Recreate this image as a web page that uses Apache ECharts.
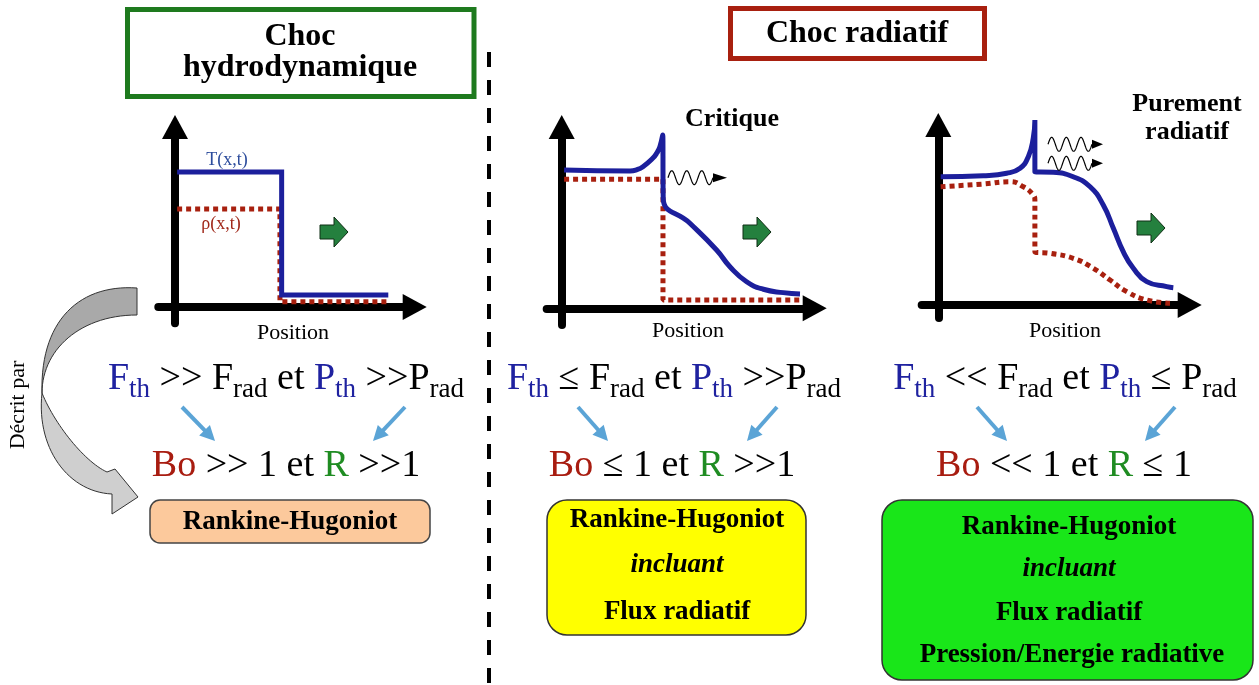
<!DOCTYPE html>
<html><head><meta charset="utf-8">
<script src="https://cdn.jsdelivr.net/npm/echarts@6/dist/echarts.min.js"></script>
<style>html,body{margin:0;padding:0;background:#fff}#c{width:1259px;height:685px}</style>
</head><body><div id="c"></div>
<script>
// ---------- DATA (position, value) ----------
const hydroTemperature = [[0.1,10],[5.0,10],[5.0,0.89],[10,0.89]];
const hydroDensity     = [[0.1,7.26],[4.92,7.26],[4.92,0.39],[9.92,0.39]];
const criticTemperature = [[0.1,10.24],[2.87,10.17],[3.16,10.27],[3.41,10.49],[3.83,11.13],[3.99,11.5],[4.12,11.97],[4.24,12.84],[4.26,8.15],[5.38,6.30],[6.50,4.32],[7.06,3.08],[7.76,1.97],[8.46,1.41],[9.30,1.16],[10,1.06]];
const criticDensity     = [[0.1,9.56],[4.25,9.56],[4.25,0.61],[10,0.61]];
const radTemperature = [[0.1,9.50],[1.91,9.58],[2.91,9.76],[3.48,10.13],[3.83,10.99],[4.04,12.35],[4.11,13.70],[4.11,9.87],[4.89,9.83],[5.74,9.50],[6.46,8.76],[7.02,7.41],[7.45,5.68],[7.87,3.95],[8.30,2.72],[8.87,1.73],[9.72,1.36],[10,1.28]];
const radDensity     = [[0.1,8.76],[1.91,8.96],[3.05,9.13],[3.62,8.76],[4.04,8.15],[4.11,7.78],[4.11,3.95],[4.75,3.83],[5.74,3.46],[6.60,2.72],[7.31,1.85],[8.02,0.99],[8.87,0.37],[9.86,0.13]];
const seriesNames = ['T(x,t)', 'ρ(x,t)'];
const axisName = 'Position';

// ---------- LAYOUT ----------
const SERIF = '"Liberation Serif","DejaVu Serif",serif';
const BLUE = '#1f22a0', DRED = '#a81c10', GREEN = '#1f8c22';
const TCOL = '#1c1f9c', RCOL = '#a8200f';
const AH = 24, AW = 26;
const panels = [
  {ox:175,   oy:307,   xu:21.33, yu:13.5, left:158.3, xTip:426.7,  yTip:115, bottom:323.3, T:hydroTemperature,  R:hydroDensity,  sT:0,   sR:0},
  {ox:561.7, oy:308.3, xu:23.83, yu:13.5, left:546.7, xTip:826.7,  yTip:115, bottom:325,   T:criticTemperature, R:criticDensity, sT:0.5, sR:0},
  {ox:938.3, oy:305,   xu:23.5,  yu:13.5, left:921.7, xTip:1201.7, yTip:113, bottom:318,   T:radTemperature,    R:radDensity,    sT:0.5, sR:0.5}
];

const grid = [], xAxis = [], yAxis = [], series = [];
const axisLine = {show:true, onZero:true, symbol:['none','triangle'], symbolSize:[AW,AH], lineStyle:{color:'#000', width:8}};
panels.forEach((p,i)=>{
  const top = p.yTip + AH/2, right = p.xTip - AH/2;
  grid.push({left:p.left, top:top, width:right-p.left, height:p.bottom-top, containLabel:false, outerBoundsMode:'none'});
  xAxis.push({type:'value', gridIndex:i, min:(p.left-p.ox)/p.xu, max:(right-p.ox)/p.xu, axisLine, axisTick:{show:false}, axisLabel:{show:false}, splitLine:{show:false}});
  yAxis.push({type:'value', gridIndex:i, min:(p.oy-p.bottom)/p.yu, max:(p.oy-top)/p.yu, axisLine, axisTick:{show:false}, axisLabel:{show:false}, splitLine:{show:false}});
  series.push({type:'line', name:seriesNames[1], xAxisIndex:i, yAxisIndex:i, data:p.R, smooth:p.sR, showSymbol:false, symbol:'none', clip:false, silent:true, z:3,
    lineStyle:{color:RCOL, width:5, type:[5,4], cap:'butt'}});
  series.push({type:'line', name:seriesNames[0], xAxisIndex:i, yAxisIndex:i, data:p.T, smooth:p.sT, showSymbol:false, symbol:'none', clip:false, silent:true, z:4,
    lineStyle:{color:TCOL, width:5, join:'miter'}});
});

// ---------- GRAPHIC helpers ----------
const G = [];
function txt(x,y,text,o){
  o=o||{};
  G.push({type:'text', x, y, rotation:o.rot||0, z:10, style:{text, fill:o.fill||'#000', fontFamily:SERIF, fontSize:o.size||20,
    fontWeight:o.bold?'bold':'normal', fontStyle:o.italic?'italic':'normal', align:'center', verticalAlign:'middle'}});
}
function richTxt(x,y,text,rich){
  G.push({type:'text', x, y, z:10, style:{text, rich, align:'center', verticalAlign:'middle', fontFamily:SERIF}});
}
function rect(x,y,w,h,o){
  G.push({type:'rect', z:5, shape:{x,y,width:w,height:h,r:o.r||0}, style:{fill:o.fill||'none', stroke:o.stroke, lineWidth:o.lw||1}});
}
function arrow(x1,y1,x2,y2,color,lw,hl,hw){
  const a=Math.atan2(y2-y1,x2-x1), c=Math.cos(a), s=Math.sin(a);
  const bx=x2-hl*c, by=y2-hl*s;
  G.push({type:'line', z:6, shape:{x1,y1,x2:bx+2*c,y2:by+2*s}, style:{stroke:color, lineWidth:lw}});
  G.push({type:'polygon', z:6, shape:{points:[[x2,y2],[bx-hw/2*s,by+hw/2*c],[bx+hw/2*s,by-hw/2*c]]}, style:{fill:color}});
}
function wave(x0,x1,cy,amp,periods,headLen){
  const pts=[]; const n=90;
  for(let k=0;k<=n;k++){const t=k/n; pts.push([x0+(x1-x0)*t, cy - amp*Math.sin(2*Math.PI*periods*t)]);}
  G.push({type:'polyline', z:6, shape:{points:pts}, style:{stroke:'#000', lineWidth:1.2, fill:null}});
  G.push({type:'polygon', z:6, shape:{points:[[x1+headLen,cy],[x1,cy-4.5],[x1,cy+4.5]]}, style:{fill:'#000'}});
}
function block(x,cy){
  const p=[[0,-7],[14,-7],[14,-15],[28,0],[14,15],[14,7],[0,7]].map(q=>[x+q[0],cy+q[1]]);
  G.push({type:'polygon', z:6, shape:{points:p}, style:{fill:'#24803e', stroke:'#0f2f14', lineWidth:1}});
}
function bez(p0,p1,p2,p3,n){
  const r=[]; for(let k=0;k<=n;k++){const t=k/n,u=1-t;
    r.push([u*u*u*p0[0]+3*u*u*t*p1[0]+3*u*t*t*p2[0]+t*t*t*p3[0], u*u*u*p0[1]+3*u*u*t*p1[1]+3*u*t*t*p2[1]+t*t*t*p3[1]]);}
  return r;
}

// Title boxes
rect(127.5,9.5,346.5,87,{stroke:'#1e7a1e', lw:5});
txt(300,37,'Choc',{size:32,bold:true});
txt(300,68,'hydrodynamique',{size:32,bold:true});
rect(730.5,8.5,254,50,{stroke:'#a8200f', lw:5});
txt(857,34,'Choc radiatif',{size:32,bold:true});

// Divider
G.push({type:'line', z:1, shape:{x1:489,y1:52,x2:489,y2:685}, style:{stroke:'#000', lineWidth:4, lineDash:[15,13]}});

// Panel annotations
txt(227,160,seriesNames[0],{size:18,fill:'#2c4c9c'});
txt(221,224,seriesNames[1],{size:18,fill:'#a0281a'});
txt(293,333,axisName,{size:22});
txt(688,331,axisName,{size:22});
txt(1065,331,axisName,{size:22});
txt(732,119,'Critique',{size:26,bold:true});
txt(1187,104,'Purement',{size:26,bold:true});
txt(1187,132,'radiatif',{size:26,bold:true});
block(320,232); block(743,232); block(1137,228);
wave(668,713,177.7,7,3,14);
wave(1048,1092,144.3,7,3,11);
wave(1048,1092,163.3,7,3,11);

// Equations
const M = 38, S = 27;
const rich = {
  k:{fontFamily:SERIF,fontSize:M,lineHeight:48,fill:'#000'},
  b:{fontFamily:SERIF,fontSize:M,lineHeight:48,fill:BLUE},
  r:{fontFamily:SERIF,fontSize:M,lineHeight:48,fill:DRED},
  g:{fontFamily:SERIF,fontSize:M,lineHeight:48,fill:GREEN},
  bs:{fontFamily:SERIF,fontSize:S,lineHeight:26,verticalAlign:'bottom',fill:BLUE},
  ks:{fontFamily:SERIF,fontSize:S,lineHeight:26,verticalAlign:'bottom',fill:'#000'}
};
richTxt(286,379,'{b|F}{bs|th}{k| >> F}{ks|rad}{k| et }{b|P}{bs|th}{k| >>P}{ks|rad}',rich);
richTxt(286,466,'{r|Bo}{k| >> 1 et }{g|R}{k| >>1}',rich);
richTxt(674,379,'{b|F}{bs|th}{k| ≤ F}{ks|rad}{k| et }{b|P}{bs|th}{k| >>P}{ks|rad}',rich);
richTxt(672,466,'{r|Bo}{k| ≤ 1 et }{g|R}{k| >>1}',rich);
richTxt(1065,379,'{b|F}{bs|th}{k| << F}{ks|rad}{k| et }{b|P}{bs|th}{k| ≤ P}{ks|rad}',rich);
richTxt(1064,466,'{r|Bo}{k| << 1 et }{g|R}{k| ≤ 1}',rich);

const LB = '#5ba4d6';
arrow(182,407,215,441,LB,4,15,15); arrow(405,407,373,441,LB,4,15,15);
arrow(578,407,608,441,LB,4,15,15); arrow(777,407,747,441,LB,4,15,15);
arrow(977,407,1007,441,LB,4,15,15); arrow(1175,407,1145,441,LB,4,15,15);

// Result boxes
rect(150,500,280,43,{fill:'#fcc99c', stroke:'#444', lw:1.5, r:10});
txt(290,522,'Rankine-Hugoniot',{size:27,bold:true});
rect(547,500,259,135,{fill:'#ffff00', stroke:'#333', lw:1.5, r:20});
txt(677,520,'Rankine-Hugoniot',{size:27,bold:true});
txt(677,565,'incluant',{size:27,bold:true,italic:true});
txt(677,612,'Flux radiatif',{size:27,bold:true});
rect(882,500,371,180,{fill:'#19e619', stroke:'#333', lw:1.5, r:20});
txt(1069,527,'Rankine-Hugoniot',{size:27,bold:true});
txt(1069,569,'incluant',{size:27,bold:true,italic:true});
txt(1069,613,'Flux radiatif',{size:27,bold:true});
txt(1072,655,'Pression/Energie radiative',{size:27,bold:true});

// Curved grey arrow + label
const upper = bez([137,288],[80,284],[40,320],[42,393],30).concat(bez([42,393],[42,350],[80,315],[137,315],30));
G.push({type:'polygon', z:2, shape:{points:upper}, style:{fill:'#a9a9a9', stroke:'#333', lineWidth:1}});
const lower = bez([42,393],[36,448],[68,492],[112,494],30).concat([[112,514],[138,497],[115,469]]).concat(bez([107,472],[85,462],[55,425],[42,393],30));
G.push({type:'polygon', z:2, shape:{points:lower}, style:{fill:'#cfcfcf', stroke:'#333', lineWidth:1}});
txt(18,405,'Décrit par',{size:22,rot:Math.PI/2});

const chart = echarts.init(document.getElementById('c'), null, {renderer:'canvas'});
chart.setOption({animation:false, backgroundColor:'#fff', grid, xAxis, yAxis, series, graphic:G});
</script></body></html>
